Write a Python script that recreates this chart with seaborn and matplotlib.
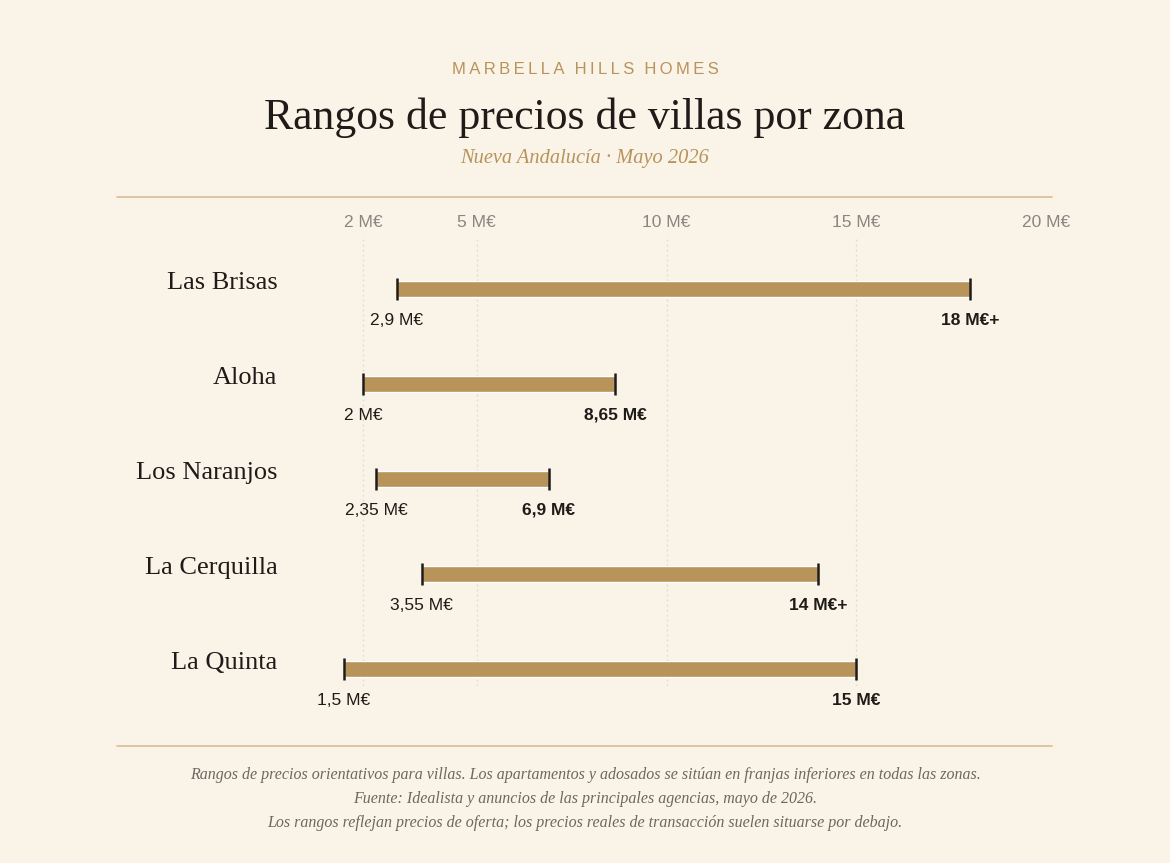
import matplotlib
matplotlib.use("Agg")
import matplotlib.pyplot as plt
import seaborn as sns
import pandas as pd

# data
zones = ["Las Brisas", "Aloha", "Los Naranjos", "La Cerquilla", "La Quinta"]
price_low = [2.9, 2.0, 2.35, 3.55, 1.5]
price_high = [18.0, 8.65, 6.9, 14.0, 15.0]
low_labels = ["2,9 M€", "2 M€", "2,35 M€", "3,55 M€", "1,5 M€"]
high_labels = ["18 M€+", "8,65 M€", "6,9 M€", "14 M€+", "15 M€"]
tick_values = [2, 5, 10, 15, 20]
tick_labels = ["2 M€", "5 M€", "10 M€", "15 M€", "20 M€"]

BG = "#FAF3E8"
GOLD = "#B8935A"
LINE = "#D9BE98"
INK = "#1E1B18"
GREY = "#8A8580"
SERIF = "Liberation Serif"
SANS = "Liberation Sans"

sns.set_theme(style="white")
plt.rcParams["font.family"] = ["Liberation Sans", "DejaVu Sans"]

W, H = 1170, 863
fig = plt.figure(figsize=(W / 100, H / 100), dpi=100, facecolor=BG)

# axes placed in pixel coordinates: x from 287 to 1046, y from 238 to 686
ax = fig.add_axes([287 / W, 1 - 686 / H, (1046 - 287) / W, (686 - 238) / H])
ax.set_facecolor(BG)

df = pd.DataFrame({"zone": zones, "low": price_low, "high": price_high,
                   "pos": range(len(zones))})

# range bars
ax.barh(df["pos"], df["high"] - df["low"], left=df["low"], height=0.17,
        color=GOLD, zorder=2)

# end caps
caps = pd.concat([df[["pos", "low"]].rename(columns={"low": "val"}),
                  df[["pos", "high"]].rename(columns={"high": "val"})])
sns.scatterplot(data=caps, x="val", y="pos", marker="|", s=250,
                linewidth=1.8, color=INK, ax=ax, zorder=3, legend=False)

ax.set_xlim(0, 20)
ax.set_ylim(4 + 17 / 95, -51 / 95)

# grid
for v in tick_values:
    ax.axvline(v, color="#E0D9CF", lw=0.9, ls=(0, (1.5, 2.5)), zorder=0)

ax.xaxis.tick_top()
ax.set_xticks(tick_values)
ax.set_xticklabels(tick_labels, fontsize=12.5, color=GREY, family=SANS)
ax.tick_params(axis="x", length=0, pad=5.5)
ax.set_yticks([])
ax.set_xlabel("")
ax.set_ylabel("")
for s in ax.spines.values():
    s.set_visible(False)

# labels
for i, row in df.iterrows():
    ax.text(-0.25, row["pos"] - 0.06, row["zone"], ha="right", va="center",
            fontsize=19, family=SERIF, color=INK)
    ax.text(row["low"], row["pos"] + 0.33, low_labels[i], ha="center",
            va="center", fontsize=12.5, family=SANS, color=INK)
    ax.text(row["high"], row["pos"] + 0.33, high_labels[i], ha="center",
            va="center", fontsize=12.5, family=SANS, color=INK,
            fontweight="bold")

# header (letter-spaced brand line)
brand = "MARBELLA HILLS HOMES"
fig.text(0.5, 1 - 70 / H, "\u2009".join(brand).replace("\u2009 \u2009", "\u2009\u2009\u2009"),
         ha="center", va="center", fontsize=12, color=GOLD, family=SANS)
fig.text(0.5, 1 - 118 / H, "Rangos de precios de villas por zona", ha="center",
         va="center", fontsize=31.5, color=INK, family=SERIF)
fig.text(0.5, 1 - 158 / H, "Nueva Andalucía · Mayo 2026", ha="center",
         va="center", fontsize=14.7, color=GOLD, family=SERIF, style="italic")

# rules
fig.add_artist(plt.Line2D([117 / W, 1052 / W], [1 - 197 / H, 1 - 197 / H],
                          color=LINE, lw=1.2))
fig.add_artist(plt.Line2D([117 / W, 1052 / W], [1 - 746 / H, 1 - 746 / H],
                          color=LINE, lw=1.2))

# footer
notes = [
    "Rangos de precios orientativos para villas. Los apartamentos y adosados se sitúan en franjas inferiores en todas las zonas.",
    "Fuente: Idealista y anuncios de las principales agencias, mayo de 2026.",
    "Los rangos reflejan precios de oferta; los precios reales de transacción suelen situarse por debajo.",
]
for k, line in enumerate(notes):
    fig.text(0.5, 1 - (775 + 24 * k) / H, line, ha="center", va="center",
             fontsize=11.5, color="#6E675F", family=SERIF, style="italic")

fig.savefig("out.png", dpi=100, facecolor=BG)
